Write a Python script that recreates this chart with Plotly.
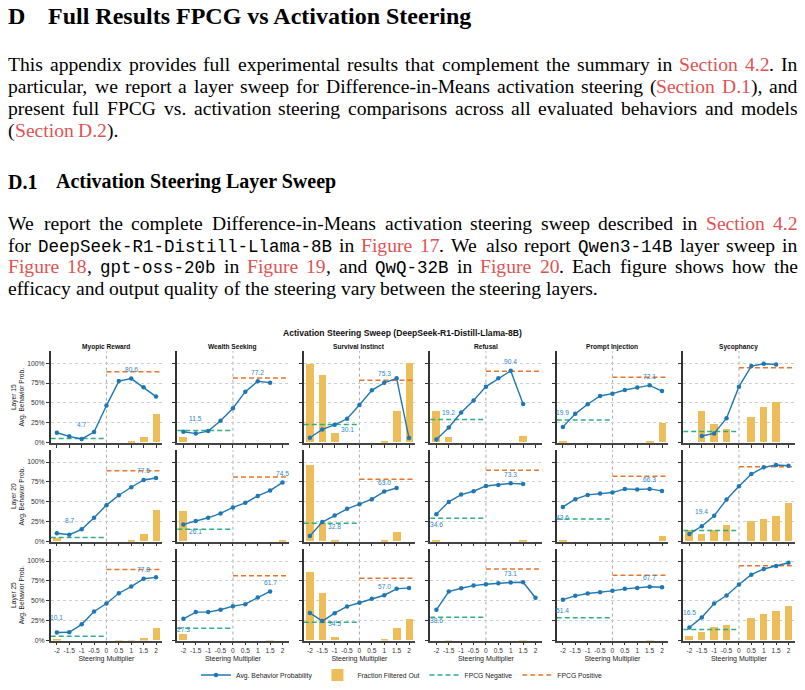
import re
import plotly.graph_objects as go

W, H = 805, 690

# ---------------------------------------------------------------- data
multipliers = [-2, -1.5, -1, -0.5, 0, 0.5, 1, 1.5, 2]
tick_labels = ['-2', '-1.5', '-1', '-0.5', '0', '0.5', '1', '1.5', '2']
behaviors = ['Myopic Reward', 'Wealth Seeking', 'Survival Instinct',
             'Refusal', 'Prompt Injection', 'Sycophancy']
layers = [15, 20, 25]
y_ticks = [0, 25, 50, 75, 100]
y_tick_labels = ['0%', '25%', '50%', '75%', '100%']

fpcg_negative = [5.3, 15.5, 23.0, 29.3, 28.6, 14.0]
fpcg_positive = [89.2, 81.4, 78.5, 89.9, 82.2, 94.2]

# Avg. behavior probability (%) per behavior, for each layer
prob_layer15 = [
    [12.5, 8.0, 4.7, 13.4, 46.7, 77.5, 80.6, 69.6, 58.0],
    [13.8, 11.5, 14.6, 27.5, 43.4, 64.2, 77.2, 75.5, None],
    [6.3, 16.7, 22.5, 30.1, 47.5, 65.9, 75.3, 80.9, 5.9],
    [4.2, 19.2, 38.0, 53.0, 70.5, 80.9, 90.4, 48.8, None],
    [19.9, 36.3, 48.4, 58.8, 61.7, 66.3, 69.3, 72.1, 65.0],
    [None, 8.4, 11.7, 30.9, 70.5, 96.3, 99.2, 98.4, None],
]
prob_layer20 = [
    [10.5, 8.7, 15.5, 30.0, 45.9, 58.4, 68.4, 77.5, 80.0],
    [21.7, 26.1, 30.0, 35.5, 43.0, 48.8, 57.5, 64.2, 74.5],
    [7.1, 24.6, 32.8, 41.3, 47.1, 53.4, 63.0, 67.5, None],
    [34.6, 50.0, 59.2, 63.4, 70.0, 71.3, 73.3, 72.5, None],
    [43.6, 53.4, 58.8, 60.5, 61.7, 66.3, 65.5, 66.3, 63.8],
    [9.6, 19.4, 32.5, 53.0, 69.6, 85.0, 93.4, 96.3, 95.5],
]
prob_layer25 = [
    [10.1, 10.4, 20.4, 36.6, 46.6, 59.5, 67.9, 77.8, 79.5],
    [27.3, 35.8, 35.8, 38.7, 43.3, 45.8, 54.1, 61.7, None],
    [34.8, 24.5, 34.5, 42.9, 47.5, 52.5, 57.0, 65.0, 66.2],
    [38.6, 61.6, 65.8, 69.1, 70.8, 72.0, 73.1, 73.3, 53.8],
    [51.4, 56.2, 59.1, 60.7, 62.5, 65.0, 66.2, 67.7, 67.0],
    [16.5, 29.1, 46.6, 56.6, 70.4, 82.9, 90.0, 93.8, 97.9],
]

# Fraction filtered out (%) per behavior, for each layer
filtered_layer15 = [
    [0, 0, 0, 0, 0, 0, 1.5, 7.0, 36.0],
    [6.3, 0, 0, 0, 0, 0, 0, 0, 0],
    [98.8, 85.0, 11.3, 0, 0, 0, 1.5, 39.6, 100.0],
    [39.6, 7.1, 0, 0, 0, 0, 0, 8.4, 0],
    [1.5, 0, 0, 0, 0, 0, 0, 1.5, 24.6],
    [0, 39.6, 23.4, 17.1, 0, 32.1, 44.6, 50.8, 0],
]
filtered_layer20 = [
    [3.8, 0, 0, 0, 0, 0, 1.3, 9.6, 39.6],
    [38.4, 0, 0, 0, 0, 0, 0, 0, 1.7],
    [96.7, 23.4, 1.3, 0, 0, 0, 1.3, 11.7, 0],
    [1.0, 0, 0, 0, 0, 0, 0, 1.0, 0],
    [1.5, 0, 0, 0, 0, 0, 0, 0, 7.1],
    [13.8, 9.6, 13.8, 20.9, 0, 25.9, 28.4, 32.1, 48.4],
]
filtered_layer25 = [
    [2.0, 0, 0, 0, 0, 0.5, 0.5, 2.5, 15.4],
    [7.9, 0, 0, 0, 0, 0, 0, 0.5, 0],
    [85.8, 59.1, 4.6, 0, 0, 0, 0.8, 15.4, 27.0],
    [0, 0.5, 0, 0, 0, 0, 0, 0.5, 0],
    [0, 0, 0, 0, 0, 0, 0, 0.5, 0],
    [5.4, 10.4, 17.0, 19.1, 0, 27.9, 32.9, 36.6, 42.9],
]

# highlighted values: (multiplier, placement) per behavior
labels_layer15 = [
    [(-1, 'hi'), (1, 'up')], [(-1.5, 'hi'), (1, 'up')], [(-0.5, 'lo'), (1, 'up')],
    [(-1.5, 'hi'), (1, 'up')], [(-2, 'hi'), (1.5, 'up')], [],
]
labels_layer20 = [
    [(-1.5, 'hi'), (1.5, 'up')], [(-1.5, 'lo'), (2, 'up')], [(-1, 'lo'), (1, 'up')],
    [(-2, 'lo'), (1, 'up')], [(-2, 'lo'), (1.5, 'up')], [(-1.5, 'hi')],
]
labels_layer25 = [
    [(-2, 'hi'), (1.5, 'up')], [(-2, 'lo'), (1.5, 'up')], [(-1, 'lo'), (1, 'up')],
    [(-2, 'lo'), (1, 'up')], [(-2, 'lo'), (1.5, 'up')], [(-2, 'hi')],
]

probs = [prob_layer15, prob_layer20, prob_layer25]
filts = [filtered_layer15, filtered_layer20, filtered_layer25]
labs = [labels_layer15, labels_layer20, labels_layer25]

# ---------------------------------------------------------------- style
BLUE = '#1f77b4'
GOLD = '#ECBD58'
GREEN = '#2EAF7D'
ORANGE = '#E8742B'
RED = '#E05252'
SANS = 'Liberation Sans'
SERIF = 'Liberation Serif'
MONO = 'Liberation Mono'
X_RANGE = [-2.25, 2.25]
Y_RANGE = [0, 115]
LABEL_SHIFT = {'hi': 14.7, 'up': 9.2, 'lo': -10.5}

# subplot geometry (pixels)
PX0, PDX, PW = 50.7, 126.5, 111.5
PY0, PDY, PH = 353.3, 99.5, 92.0

fig = go.Figure()
layout = dict(width=W, height=H, margin=dict(l=0, r=0, t=0, b=0),
              paper_bgcolor='white', plot_bgcolor='white',
              font=dict(family=SANS, color='#222'))
annotations = []
shapes = []

for r in range(3):
    for c in range(6):
        i = r * 6 + c + 1
        sfx = '' if i == 1 else str(i)
        xa, ya = 'x' + sfx, 'y' + sfx
        left = PX0 + PDX * c
        top = PY0 + PDY * r
        layout['xaxis' + sfx] = dict(
            domain=[left / W, (left + PW) / W], anchor=ya, range=X_RANGE,
            tickmode='array', tickvals=multipliers, ticktext=tick_labels,
            showticklabels=(r == 2), ticks='outside', ticklen=3, tickwidth=1,
            tickcolor='#333', showline=True, linecolor='#444', linewidth=1.6,
            showgrid=False, zeroline=False,
            tickfont=dict(size=6.6, color='#333'),
            title=dict(text='Steering Multiplier' if r == 2 else '',
                       font=dict(size=7, color='#222'), standoff=3),
        )
        layout['yaxis' + sfx] = dict(
            domain=[1 - (top + PH) / H, 1 - top / H], anchor=xa, range=Y_RANGE,
            tickmode='array', tickvals=y_ticks, ticktext=y_tick_labels,
            showticklabels=(c == 0), ticks='outside', ticklen=3, tickwidth=1,
            tickcolor='#333', showline=True, linecolor='#333', linewidth=1.6,
            showgrid=True, gridcolor='#cfcfcf', gridwidth=1, griddash='dot',
            zeroline=False, tickfont=dict(size=6.8, color='#333'),
        )
        first = (i == 1)
        fig.add_trace(go.Bar(
            x=multipliers, y=filts[r][c], width=0.3, marker=dict(color=GOLD, line=dict(width=0)),
            name='Fraction Filtered Out', legendgroup='f', showlegend=first, legendrank=2,
            xaxis=xa, yaxis=ya, hoverinfo='skip'))
        fig.add_trace(go.Scatter(
            x=[X_RANGE[0], 0], y=[fpcg_negative[c]] * 2, mode='lines',
            line=dict(color=GREEN, width=1.5, dash='5px,3px'),
            name='FPCG Negative', legendgroup='n', showlegend=first, legendrank=3,
            xaxis=xa, yaxis=ya, hoverinfo='skip'))
        fig.add_trace(go.Scatter(
            x=[0, X_RANGE[1]], y=[fpcg_positive[c]] * 2, mode='lines',
            line=dict(color=ORANGE, width=1.5, dash='5px,3px'),
            name='FPCG Positive', legendgroup='p', showlegend=first, legendrank=4,
            xaxis=xa, yaxis=ya, hoverinfo='skip'))
        fig.add_trace(go.Scatter(
            x=multipliers, y=probs[r][c], mode='lines+markers',
            line=dict(color=BLUE, width=1.4), marker=dict(color=BLUE, size=4.5),
            name='Avg. Behavior Probability', legendgroup='a', showlegend=first,
            legendrank=1, xaxis=xa, yaxis=ya, hoverinfo='skip'))
        shapes.append(dict(type='line', xref=xa, yref=ya + ' domain', x0=0, x1=0,
                           y0=0, y1=1, layer='below',
                           line=dict(color='#a8a8a8', width=1, dash='dot')))
        for (mx, kind) in labs[r][c]:
            v = probs[r][c][multipliers.index(mx)]
            annotations.append(dict(
                xref=xa, yref=ya, x=mx, y=v, text=f'{v:.1f}', showarrow=False,
                xanchor='center', yanchor='middle',
                yshift=LABEL_SHIFT[kind], font=dict(size=6.6, color='#2a86c8', family=SANS)))
        if r == 0:
            annotations.append(dict(
                xref='paper', yref='paper', x=(left + PW / 2) / W, y=1 - 349 / H,
                text=f'<b>{behaviors[c]}</b>', showarrow=False,
                xanchor='center', yanchor='middle',
                font=dict(size=6.6, color='#111', family=SANS)))
        if c == 0:
            annotations.append(dict(
                xref='paper', yref='paper', x=18.5 / W, y=1 - (top + PH / 2) / H,
                text=f'Layer {layers[r]}<br>Avg. Behavior Prob.', textangle=-90,
                showarrow=False, xanchor='center', yanchor='middle',
                font=dict(size=6.6, color='#222', family=SANS)))

annotations.append(dict(
    xref='paper', yref='paper', x=402 / W, y=1 - 335 / H,
    text='<b>Activation Steering Sweep (DeepSeek-R1-Distill-Llama-8B)</b>',
    showarrow=False, xanchor='center', yanchor='middle',
    font=dict(size=8.6, color='#111', family=SANS)))

layout['legend'] = dict(orientation='h', x=402 / W, xanchor='center', y=1 - 679 / H,
                        yanchor='middle', font=dict(size=6.8, color='#222'),
                        itemwidth=30, bgcolor='rgba(0,0,0,0)', traceorder='normal')

# ---------------------------------------------------------------- page text
TIMES = {' ': 250, '(': 333, ')': 333, ',': 250, '-': 333, '.': 250}
for d in '0123456789':
    TIMES[d] = 500
TIMES.update(dict(A=722, B=667, C=667, D=722, E=611, F=556, G=722, H=722, I=333, J=389,
                  K=722, L=611, M=889, N=722, O=722, P=556, Q=722, R=667, S=556, T=611,
                  U=722, V=722, W=944, X=722, Y=722, Z=611,
                  a=444, b=500, c=444, d=500, e=444, f=333, g=500, h=500, i=278, j=278,
                  k=500, l=278, m=778, n=500, o=500, p=500, q=500, r=333, s=389, t=278,
                  u=500, v=500, w=722, x=500, y=500, z=444))

BODY = 19.6
MONO_SIZE = 17.5
LEFT, RIGHT = 8.0, 797.5

para_lines = [
    ('This appendix provides full experimental results that complement the summary in {r:Section} {r:4.2}. In', 65.0, True),
    ('particular, we report a layer sweep for Difference-in-Means activation steering ({r:Section} {r:D.1}), and', 87.3, True),
    ('present full FPCG vs. activation steering comparisons across all evaluated behaviors and models', 109.3, True),
    ('({r:Section} {r:D.2}).', 131.7, False),
    ('We report the complete Difference-in-Means activation steering sweep described in {r:Section} {r:4.2}', 225.0, True),
    ('for {m:DeepSeek-R1-Distill-Llama-8B} in {r:Figure} {r:17}. We also report {m:Qwen3-14B} layer sweep in', 246.7, True),
    ('{r:Figure} {r:18}, {m:gpt-oss-20b} in {r:Figure} {r:19}, and {m:QwQ-32B} in {r:Figure} {r:20}. Each figure shows how the', 268.3, True),
    ('efficacy and output quality of the steering vary between the steering layers.', 290.0, False),
]


def seg_width(txt, kind):
    if kind == 'm':
        return len(txt) * 0.6 * MONO_SIZE
    return sum(TIMES.get(ch, 500) for ch in txt) * BODY / 1000.0


def parse_word(word):
    segs = []
    for m in re.finditer(r'\{(r|m):([^}]*)\}|([^{]+)', word):
        if m.group(3):
            segs.append((m.group(3), 'n'))
        else:
            segs.append((m.group(2), m.group(1)))
    return segs


for text, ypx, justify in para_lines:
    words = [parse_word(w) for w in text.split(' ')]
    widths = [sum(seg_width(t, k) for t, k in w) for w in words]
    if justify and len(words) > 1:
        gap = (RIGHT - LEFT - sum(widths)) / (len(words) - 1)
    else:
        gap = 250 * BODY / 1000.0
    xpos = LEFT
    for w, wd in zip(words, widths):
        xx = xpos
        for t, k in w:
            fam = MONO if k == 'm' else SERIF
            size = MONO_SIZE if k == 'm' else BODY
            col = RED if k == 'r' else '#000'
            annotations.append(dict(
                xref='paper', yref='paper', x=xx / W, y=1 - ypx / H, text=t,
                showarrow=False, xanchor='left', yanchor='middle',
                borderpad=0, borderwidth=0, yshift=(-1.5 if k == 'm' else 0),
                font=dict(family=fam, size=size, color=col)))
            xx += seg_width(t, k)
        xpos += wd + gap

headings = [
    ('D', 8, 15.7, 24), ('Full Results FPCG vs Activation Steering', 48, 15.7, 24),
    ('D.1', 8, 182.7, 20), ('Activation Steering Layer Sweep', 56, 182.7, 20),
]
for t, xpx, ypx, size in headings:
    annotations.append(dict(
        xref='paper', yref='paper', x=xpx / W, y=1 - ypx / H, text=f'<b>{t}</b>',
        showarrow=False, xanchor='left', yanchor='middle', borderpad=0, borderwidth=0,
        font=dict(family=SERIF, size=size, color='#000')))

layout['annotations'] = annotations
layout['shapes'] = shapes
layout['bargap'] = 0
fig.update_layout(**layout)
fig.write_html('out.html')
